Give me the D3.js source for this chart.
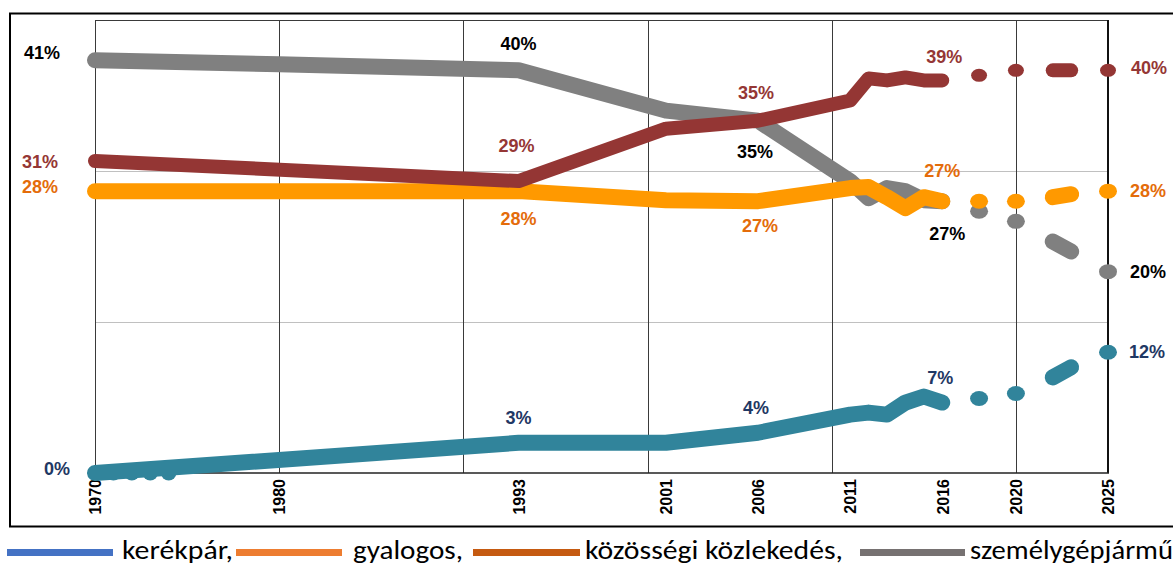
<!DOCTYPE html>
<html>
<head>
<meta charset="utf-8">
<script src="https://cdn.jsdelivr.net/npm/d3@7"></script>
<style>
  body { margin: 0; background: #fff; }
  svg { display: block; }
</style>
</head>
<body>
<svg id="chart" width="1173" height="566"></svg>
<script>
// ---- data: modal share (%) by year ----
const tickYears = [1970, 1980, 1993, 2001, 2006, 2011, 2016, 2020, 2025];
const gridYears = [1970, 1980, 1990, 2000, 2010, 2020];
const gridValues = [15, 30];

// observed period (solid lines)
const carYears     = [1970, 1980, 1993, 2001, 2006, 2011, 2012, 2013, 2014, 2015, 2016];
const carValues    = [41, 40.6, 40, 36, 35, 29, 27.3, 28.3, 28, 27.1, 27];
const walkYears    = [1970, 1980, 1993, 2001, 2006, 2011, 2012, 2013, 2014, 2015, 2016];
const walkValues   = [28, 28, 28, 27.1, 27, 28.3, 28.4, 27.4, 26.3, 27.4, 27];
const transitYears = [1970, 1993, 2001, 2006, 2011, 2012, 2013, 2014, 2015, 2016];
const transitValues= [31, 29, 34.2, 35, 37, 39.2, 39, 39.3, 39, 39];
const bikeYears    = [1970, 1993, 2001, 2006, 2011, 2012, 2013, 2014, 2015, 2016];
const bikeValues   = [0, 3, 3, 4, 5.8, 6, 5.8, 7, 7.6, 7];
const bikeEarlyYears  = [1971, 1972, 1973, 1974];
const bikeEarlyValues = [0, 0, 0, 0];

// target period (dotted lines)
const projYears    = [2018, 2020, 2022, 2023, 2025];
const carProj      = [26, 25, 23, 22, 20];
const walkProj     = [27, 27, 27.4, 27.7, 28];
const transitProj  = [39.5, 40, 40, 40, 40];
const bikeProj     = [7.4, 7.9, 9.5, 10.5, 12];
const projRuns     = [[2018], [2020], [2022, 2023], [2025]];

// years carrying a value label
const carLabelYears     = [1970, 1993, 2006, 2016, 2025];
const walkLabelYears    = [1970, 1993, 2006, 2016, 2025];
const transitLabelYears = [1970, 1993, 2006, 2016, 2025];
const bikeLabelYears    = [1970, 1993, 2006, 2016, 2025];

// legend
const legendNames  = ["kerékpár,", "gyalogos,", "közösségi közlekedés,", "személygépjármű"];
const legendColors = ["#4472c4", "#ed7d31", "#c55a11", "#767171"];

// ---- layout ----
const svg = d3.select("#chart");
const x = d3.scaleLinear().domain([1970, 2025]).range([95, 1108]);
const y = d3.scaleLinear().domain([0, 45]).range([473, 20]);

// outer frame
svg.append("rect")
  .attr("x", 10).attr("y", 13.5).attr("width", 1190).attr("height", 513)
  .attr("fill", "none").attr("stroke", "#000").attr("stroke-width", 2);

// grid
svg.append("g").selectAll("line").data(gridValues).join("line")
  .attr("x1", x(1970)).attr("x2", x(2025))
  .attr("y1", d => Math.round(y(d)) + 0.5).attr("y2", d => Math.round(y(d)) + 0.5)
  .attr("stroke", "#c0c0c0").attr("stroke-width", 1);

svg.append("g").selectAll("line").data(gridYears).join("line")
  .attr("x1", d => Math.round(x(d)) + 0.5).attr("x2", d => Math.round(x(d)) + 0.5)
  .attr("y1", y(45)).attr("y2", y(0))
  .attr("stroke", "#3a3a3a").attr("stroke-width", 1);

// plot border
svg.append("line").attr("x1", x(1970)).attr("x2", x(2025))
  .attr("y1", Math.round(y(45)) + 0.5).attr("y2", Math.round(y(45)) + 0.5)
  .attr("stroke", "#3a3a3a").attr("stroke-width", 1);
svg.append("line").attr("x1", x(2025)).attr("x2", x(2025))
  .attr("y1", y(45)).attr("y2", y(0))
  .attr("stroke", "#111").attr("stroke-width", 2);
svg.append("line").attr("x1", x(1970)).attr("x2", x(2025) + 1)
  .attr("y1", y(0)).attr("y2", y(0))
  .attr("stroke", "#222").attr("stroke-width", 1.5);

// x axis labels
const xAxis = d3.axisBottom(x).tickValues(tickYears).tickFormat(d3.format("d")).tickSize(0);
const gx = svg.append("g").attr("transform", `translate(0,${y(0)})`).call(xAxis);
gx.select(".domain").remove();
gx.selectAll("text")
  .attr("x", 0).attr("y", 0).attr("dy", "0.36em")
  .attr("transform", "translate(0,6) rotate(-90)")
  .attr("text-anchor", "end")
  .attr("fill", "#000")
  .style("font-family", "'Liberation Sans', Arial, sans-serif")
  .style("font-weight", "bold")
  .style("font-size", "16px");

// ---- series ----
const zip = (ys, vs) => ys.map((yr, i) => ({ year: yr, value: vs[i] }));

const series = [
  { key: "car", pts: zip(carYears, carValues), proj: zip(projYears, carProj),
    labels: carLabelYears, color: "#808080", width: 16, labelColor: "#000000" },
  { key: "walk", pts: zip(walkYears, walkValues), proj: zip(projYears, walkProj),
    labels: walkLabelYears, color: "#ff9900", width: 16, labelColor: "#e46c0a" },
  { key: "transit", pts: zip(transitYears, transitValues), proj: zip(projYears, transitProj),
    labels: transitLabelYears, color: "#943634", width: 14, labelColor: "#953735" },
  { key: "bike", pts: zip(bikeYears, bikeValues), proj: zip(projYears, bikeProj),
    labels: bikeLabelYears, color: "#31849b", width: 16, labelColor: "#1f3864" }
];

const line = d3.line().x(d => x(d.year)).y(d => y(d.value));

const marks = svg.append("g");

series.forEach(s => {
  const g = marks.append("g").attr("class", "series-" + s.key);

  if (s.key === "bike") {
    g.selectAll("ellipse.early").data(zip(bikeEarlyYears, bikeEarlyValues)).join("ellipse")
      .attr("class", "early")
      .attr("cx", d => x(d.year)).attr("cy", d => y(d.value) + 1)
      .attr("rx", 7.5).attr("ry", 6.5).attr("fill", s.color);
  }

  g.append("path").datum(s.pts)
    .attr("d", line)
    .attr("fill", "none").attr("stroke", s.color)
    .attr("stroke-width", s.width)
    .attr("stroke-linecap", "round").attr("stroke-linejoin", "round");

  projRuns.forEach(run => {
    const pts = s.proj.filter(p => run.includes(p.year));
    if (pts.length === 1) {
      g.append("ellipse")
        .attr("cx", x(pts[0].year)).attr("cy", y(pts[0].value))
        .attr("rx", s.width / 2 + 1).attr("ry", s.width / 2 - 0.5)
        .attr("fill", s.color);
    } else {
      g.append("path").datum(pts)
        .attr("d", line)
        .attr("fill", "none").attr("stroke", s.color)
        .attr("stroke-width", s.width)
        .attr("stroke-linecap", "round");
    }
  });
});

// ---- value labels ----
const labelOffsets = {
  car:     { 1970: [-53, -1], 1993: [0, -20], 2006: [-3, 37], 2016: [5, 39], 2025: [40, 6] },
  walk:    { 1970: [-55, 2],  1993: [0, 34],  2006: [2, 31],  2016: [0, -24], 2025: [40, 6] },
  transit: { 1970: [-55, 7],  1993: [-2, -29], 2006: [-2, -22], 2016: [2, -17], 2025: [41, 4] },
  bike:    { 1970: [-38, 2],  1993: [0, -19], 2006: [-2, -19], 2016: [-2, -19], 2025: [39, 6] }
};

const labelLayer = svg.append("g")
  .style("font-family", "'Liberation Sans', Arial, sans-serif")
  .style("font-size", "18px").style("font-weight", "bold");

series.forEach(s => {
  const all = s.pts.concat(s.proj);
  s.labels.forEach(yr => {
    const p = all.find(d => d.year === yr);
    const [dx, dy] = labelOffsets[s.key][yr];
    labelLayer.append("text")
      .attr("x", x(p.year) + dx).attr("y", y(p.value) + dy)
      .attr("text-anchor", "middle")
      .attr("fill", s.labelColor)
      .text(d3.format(".0f")(p.value) + "%");
  });
});

// ---- legend ----
const legendLineX = [7, 236, 473, 860];
const legendLineLen = [106, 106, 107, 105];
const legendTextX = [122, 353, 585, 970];
const legendTextLen = [111, 110, 258, 203];

const legend = svg.append("g");
legendNames.forEach((name, i) => {
  legend.append("line")
    .attr("x1", legendLineX[i]).attr("x2", legendLineX[i] + legendLineLen[i])
    .attr("y1", 552.5).attr("y2", 552.5)
    .attr("stroke", legendColors[i]).attr("stroke-width", 7);
  legend.append("text")
    .attr("x", legendTextX[i]).attr("y", 559)
    .attr("textLength", legendTextLen[i]).attr("lengthAdjust", "spacingAndGlyphs")
    .style("font-family", "Carlito, Calibri, Lato, sans-serif")
    .style("font-size", "27px")
    .attr("fill", "#000")
    .text(name);
});
</script>
</body>
</html>
